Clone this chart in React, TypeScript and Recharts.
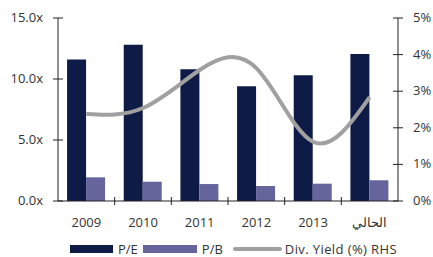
import React from "react";
import {Bar, ComposedChart, Legend, Line, XAxis, YAxis} from "recharts";

const years = ["2009", "2010", "2011", "2012", "2013", "الحالي"];
const peValues = [11.6, 12.8, 10.8, 9.4, 10.3, 12.05];
const pbValues = [1.94, 1.58, 1.39, 1.23, 1.42, 1.7];
const yieldValues = [2.38, 2.54, 3.58, 3.63, 1.62, 2.84];

const leftTicks = [0, 5, 10, 15];
const rightTicks = [0, 1, 2, 3, 4, 5];

const data = years.map((year, i) => ({
    year,
    pe: peValues[i],
    pb: pbValues[i],
    dy: yieldValues[i],
}));

const NAVY = "#0e1b46";
const PURPLE = "#65659b";
const GREY = "#a0a0a0";
const AXIS = "#222";
const FONT = "'Open Sans', sans-serif";

// Excel-style "cross" tick marks, drawn next to the labels
const LeftTick = (props) => {
    const {x, y, payload} = props;
    return (
        <g>
            <line x1={x + 10} x2={x + 20} y1={y} y2={y} stroke={AXIS}/>
            <text x={x} y={y} dy={4} textAnchor="end" fontSize={13} fill="#333" fontFamily={FONT}>
                {payload.value.toFixed(1) + "x"}
            </text>
        </g>
    );
};

const RightTick = (props) => {
    const {x, y, payload} = props;
    return (
        <g>
            <line x1={x - 20} x2={x - 10} y1={y} y2={y} stroke={AXIS}/>
            <text x={x} y={y} dy={4} textAnchor="start" fontSize={13} fill="#333" fontFamily={FONT}>
                {payload.value + "%"}
            </text>
        </g>
    );
};

const BottomTick = (props) => {
    const {x, y, payload, index} = props;
    const band = 340 / years.length;
    return (
        <g>
            {index > 0 && (
                <line x1={x - band / 2} x2={x - band / 2} y1={y - 10} y2={y - 2} stroke={AXIS}/>
            )}
            <text x={x} y={y} dy={20} textAnchor="middle" fontSize={13} fill="#333" fontFamily={FONT}>
                {payload.value}
            </text>
        </g>
    );
};

const renderLegend = () => (
    <div style={{display: "flex", alignItems: "center", fontFamily: FONT, fontSize: 13, color: "#333",
        paddingLeft: 70, paddingTop: 9}}>
        <span style={{width: 43, height: 8, background: NAVY, display: "inline-block", marginRight: 5}}/>
        <span style={{marginRight: 5}}>P/E</span>
        <span style={{width: 54, height: 8, background: PURPLE, display: "inline-block", marginRight: 5}}/>
        <span style={{marginRight: 10}}>P/B</span>
        <span style={{width: 49, height: 4, background: GREY, display: "inline-block", marginRight: 3, borderRadius: 2}}/>
        <span style={{letterSpacing: 0.4}}>Div. Yield (%) RHS</span>
    </div>
);

export default function App() {
    return (
        <div style={{position: "absolute", left: 0, top: 0, background: "#fff"}}>
            <ComposedChart width={433} height={257} data={data}
                           margin={{top: 18, right: 0, bottom: 0, left: 0}}
                           barCategoryGap="16%" barGap={0}>
                <XAxis dataKey="year" stroke={AXIS} tickLine={false} tick={<BottomTick/>} height={30}
                       tickSize={6} tickMargin={0}/>
                <YAxis yAxisId="left" domain={[0, 15]} ticks={leftTicks} width={58} stroke={AXIS}
                       tickLine={false} tickSize={5} tickMargin={10} tick={<LeftTick/>}/>
                <YAxis yAxisId="right" orientation="right" domain={[0, 5]} ticks={rightTicks} width={35}
                       stroke={AXIS} tickLine={false} tickSize={5} tickMargin={10} tick={<RightTick/>}/>
                <Legend verticalAlign="bottom" height={26} content={renderLegend}/>
                <Bar yAxisId="left" dataKey="pe" fill={NAVY} isAnimationActive={false}/>
                <Bar yAxisId="left" dataKey="pb" fill={PURPLE} isAnimationActive={false}/>
                <Line yAxisId="right" dataKey="dy" type="natural" stroke={GREY} strokeWidth={4}
                      dot={false} isAnimationActive={false}/>
            </ComposedChart>
        </div>
    );
}
